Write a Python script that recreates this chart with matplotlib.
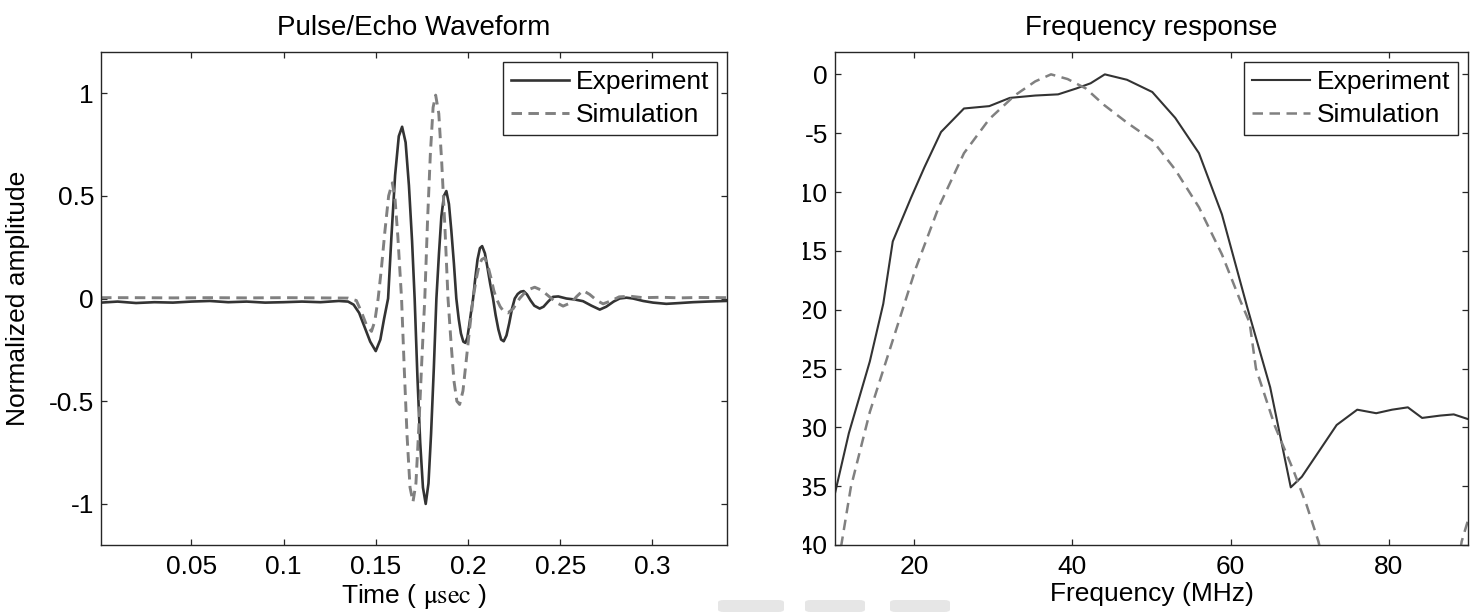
import matplotlib
matplotlib.use("Agg")
import matplotlib.pyplot as plt
from matplotlib.transforms import Bbox, TransformedBbox
from matplotlib.patches import FancyBboxPatch

plt.rcParams['font.family'] = ['Liberation Sans', 'DejaVu Sans']
plt.rcParams['mathtext.fontset'] = 'stix'
plt.rcParams['axes.unicode_minus'] = False

# ---- Pulse/echo waveform (time in microseconds, normalized amplitude) ----
t_exp = [0.001, 0.010, 0.020, 0.030, 0.040, 0.050, 0.060, 0.070, 0.080, 0.090,
         0.100, 0.110, 0.120, 0.130, 0.135, 0.138, 0.141, 0.144, 0.147, 0.150,
         0.1525, 0.1545, 0.1567, 0.1585, 0.1605, 0.1625, 0.1643, 0.1662, 0.1680,
         0.1697, 0.1711, 0.1726, 0.1741, 0.1756, 0.1771, 0.1786, 0.1800, 0.1815,
         0.1829, 0.1843, 0.1856, 0.1870, 0.1883, 0.1897, 0.1910, 0.1924, 0.1937,
         0.1950, 0.1962, 0.1975, 0.1986, 0.1997, 0.2007, 0.2018, 0.2028, 0.2040,
         0.2052, 0.2065, 0.2077, 0.2092, 0.2106, 0.2121, 0.2136, 0.2150, 0.2165,
         0.2180, 0.2194, 0.2209, 0.2224, 0.2239, 0.2254, 0.2270, 0.2286, 0.2302,
         0.2320, 0.2340, 0.2360, 0.2389, 0.2410, 0.2435, 0.2461, 0.2490, 0.2534,
         0.2580, 0.2624, 0.2670, 0.2715, 0.2750, 0.2790, 0.2823, 0.2860, 0.2895,
         0.2950, 0.3004, 0.3076, 0.3150, 0.3220, 0.3300, 0.3400]
a_exp = [-0.020, -0.015, -0.022, -0.018, -0.020, -0.015, -0.012, -0.018, -0.015, -0.020,
         -0.018, -0.015, -0.018, -0.012, -0.015, -0.030, -0.070, -0.140, -0.210, -0.256,
         -0.200, -0.100, 0.000, 0.300, 0.600, 0.790, 0.836, 0.760, 0.550,
         0.280, 0.000, -0.380, -0.700, -0.920, -1.000, -0.900, -0.660, -0.340,
         0.000, 0.220, 0.400, 0.500, 0.523, 0.460, 0.330, 0.170, 0.000,
         -0.100, -0.170, -0.210, -0.216, -0.190, -0.130, -0.060, 0.000, 0.100,
         0.190, 0.245, 0.255, 0.220, 0.150, 0.070, 0.000, -0.080, -0.150,
         -0.200, -0.208, -0.180, -0.120, -0.050, 0.000, 0.022, 0.033, 0.036,
         0.020, -0.010, -0.035, -0.049, -0.040, -0.015, 0.008, 0.010, 0.000,
         -0.005, -0.013, -0.035, -0.054, -0.040, -0.015, 0.000, 0.004, 0.000,
         -0.012, -0.020, -0.026, -0.022, -0.018, -0.015, -0.012]

t_sim = [0.001, 0.020, 0.040, 0.060, 0.080, 0.100, 0.120, 0.135, 0.1395, 0.1420,
         0.1450, 0.1477, 0.1495, 0.1513, 0.1530, 0.1550, 0.1570, 0.1590, 0.1605,
         0.1620, 0.1640, 0.1655, 0.1670, 0.1686, 0.1702, 0.1718, 0.1734, 0.1750,
         0.1766, 0.1781, 0.1796, 0.1811, 0.1825, 0.1842, 0.1858, 0.1875, 0.1892,
         0.1908, 0.1924, 0.1940, 0.1955, 0.1973, 0.1991, 0.2010, 0.2028, 0.2044,
         0.2060, 0.2075, 0.2091, 0.2108, 0.2125, 0.2140, 0.2154, 0.2175, 0.2196,
         0.2217, 0.2245, 0.2280, 0.2320, 0.2362, 0.2400, 0.2440, 0.2480, 0.2516,
         0.2560, 0.2590, 0.2624, 0.2660, 0.2700, 0.2733, 0.2780, 0.2820, 0.2880,
         0.2950, 0.3050, 0.3150, 0.3250, 0.3400]
a_sim = [0.004, 0.004, 0.003, 0.004, 0.003, 0.004, 0.003, 0.002, -0.010, -0.060,
         -0.130, -0.160, -0.110, 0.000, 0.140, 0.330, 0.500, 0.563, 0.480,
         0.300, 0.000, -0.350, -0.670, -0.920, -0.990, -0.900, -0.620, -0.300,
         0.000, 0.380, 0.700, 0.930, 0.990, 0.900, 0.660, 0.350, 0.000,
         -0.210, -0.400, -0.500, -0.516, -0.450, -0.300, -0.140, 0.000, 0.090,
         0.160, 0.190, 0.198, 0.160, 0.100, 0.040, 0.000, -0.040, -0.065,
         -0.070, -0.050, 0.000, 0.040, 0.055, 0.040, 0.010, -0.020, -0.037,
         -0.020, 0.010, 0.039, 0.020, -0.010, -0.026, -0.010, 0.008, 0.011,
         0.004, 0.006, 0.003, 0.005, 0.004]

time_ticks = [0.05, 0.1, 0.15, 0.2, 0.25, 0.3]
time_ticklabels = ['0.05', '0.1', '0.15', '0.2', '0.25', '0.3']
amp_ticks = [-1, -0.5, 0, 0.5, 1]
amp_ticklabels = ['-1', '-0.5', '0', '0.5', '1']

# ---- Frequency response (MHz, dB) ----
f_exp = [10.0, 11.75, 14.4, 16.1, 17.3, 19.6, 21.3, 23.4, 26.3, 29.5, 32.1, 35.3,
         38.2, 40.5, 42.3, 44.1, 46.9, 50.1, 53.0, 56.0, 58.9, 62.1, 65.0, 67.6,
         69.0, 73.4, 76.0, 78.4, 80.4, 82.4, 84.2, 86.5, 88.2, 90.0]
db_exp = [-35.6, -30.5, -24.4, -19.5, -14.2, -10.5, -7.9, -4.9, -2.9, -2.7, -2.0, -1.8,
          -1.7, -1.2, -0.76, 0.0, -0.46, -1.5, -3.7, -6.7, -11.9, -19.8, -26.6, -35.1,
          -34.2, -29.8, -28.5, -28.8, -28.5, -28.3, -29.2, -29.0, -28.9, -29.3]

f_sim = [10.0, 10.8, 12.0, 14.4, 17.3, 20.2, 23.1, 26.3, 29.5, 32.7, 35.3,
         37.3, 39.4, 41.7, 44.0, 46.9, 50.1, 53.0, 56.0, 58.9, 61.2, 62.4, 63.2,
         65.6, 67.9, 69.6, 71.1, 72.0, 88.8, 89.2, 90.0]
db_sim = [-43.0, -40.0, -35.1, -28.7, -22.6, -16.5, -11.3, -6.7, -3.8, -1.8, -0.6,
          0.0, -0.4, -1.2, -2.6, -4.1, -5.6, -8.1, -11.3, -15.3, -19.2, -21.1, -25.0,
          -29.9, -33.6, -36.6, -39.7, -42.5, -41.5, -39.7, -37.9]

freq_ticks = [20, 40, 60, 80]
freq_ticklabels = ['20', '40', '60', '80']
db_ticks = [0, -5, -10, -15, -20, -25, -30, -35, -40]
db_ticklabels = ['0', '-5', '-10', '-15', '-20', '-25', '-30', '-35', '-40']

FS = 19
TITLE_FS = 20
EXP_COLOR = '#333333'
SIM_COLOR = '#808080'
W, H = 1473, 612

fig = plt.figure(figsize=(W / 100, H / 100), dpi=100)
ax1 = fig.add_axes([101 / W, 1 - 545 / H, 626 / W, 493 / H])
ax2 = fig.add_axes([835 / W, 1 - 545 / H, 633 / W, 493 / H])


def style_axes(ax):
    for sp in ax.spines.values():
        sp.set_linewidth(1.0)
        sp.set_color('#262626')
    ax.tick_params(direction='in', top=True, right=True, length=4.5, width=0.9,
                   color='#262626', labelsize=FS)
    ax.tick_params(axis='y', pad=5)
    ax.tick_params(axis='x', pad=7)


def add_legend(ax):
    leg = ax.legend(loc='upper right', fontsize=FS, frameon=True, fancybox=False,
                    shadow=False, borderaxespad=0.38, borderpad=0.3,
                    handlelength=2.2, handletextpad=0.25, labelspacing=0.35)
    fr = leg.get_frame()
    fr.set_edgecolor('#262626')
    fr.set_linewidth(1.0)
    fr.set_facecolor('white')
    fr.set_alpha(1)


# Left panel: time-domain pulse
ax1.plot(t_exp, a_exp, color=EXP_COLOR, lw=1.9, label='Experiment')
ax1.plot(t_sim, a_sim, color=SIM_COLOR, lw=2.1, ls=(0, (3.6, 2.2)), label='Simulation')
ax1.set_xlim(0.001, 0.3405)
ax1.set_ylim(-1.2, 1.2)
ax1.set_xticks(time_ticks)
ax1.set_xticklabels(time_ticklabels)
ax1.set_yticks(amp_ticks)
ax1.set_yticklabels(amp_ticklabels)
style_axes(ax1)
ax1.set_title('Pulse/Echo Waveform', fontsize=TITLE_FS, pad=12)
ax1.set_xlabel(r'Time ( $\mathrm{\mu sec}$ )', fontsize=FS)
ax1.set_ylabel('Normalized amplitude', fontsize=FS)
ax1.xaxis.set_label_coords(0.5, -0.075)
ax1.yaxis.set_label_coords(-0.113, 0.5)
add_legend(ax1)

# Right panel: spectrum
ax2.plot(f_exp, db_exp, color=EXP_COLOR, lw=1.5, label='Experiment')
ax2.plot(f_sim, db_sim, color=SIM_COLOR, lw=1.8, ls=(0, (4.2, 2.6)), label='Simulation')
ax2.set_xlim(10, 90)
ax2.set_ylim(-40, 1.9)
ax2.set_xticks(freq_ticks)
ax2.set_xticklabels(freq_ticklabels)
ax2.set_yticks(db_ticks)
ax2.set_yticklabels(db_ticklabels)
style_axes(ax2)
ax2.set_title('Frequency response', fontsize=TITLE_FS, pad=12)
ax2.set_xlabel('Frequency (MHz)', fontsize=FS)
ax2.xaxis.set_label_coords(0.5, -0.075)
add_legend(ax2)

# The dB labels are cut at a vertical edge left of the right panel
clip = TransformedBbox(Bbox([[803 / W, 0], [1, 1]]), fig.transFigure)
for lab in ax2.get_yticklabels():
    lab.set_clip_on(True)
    lab.set_clip_box(clip)

# Faint grey boxes along the lower edge
for x0, w in ((718, 66), (805, 60), (890, 60)):
    fig.patches.append(FancyBboxPatch((x0 / W, 0.0), w / W, 12 / H,
                                      boxstyle='round,pad=0,rounding_size=0.004',
                                      transform=fig.transFigure, facecolor='#e6e6e6',
                                      edgecolor='none', zorder=0))

fig.savefig('out.png', dpi=100, facecolor='white')
